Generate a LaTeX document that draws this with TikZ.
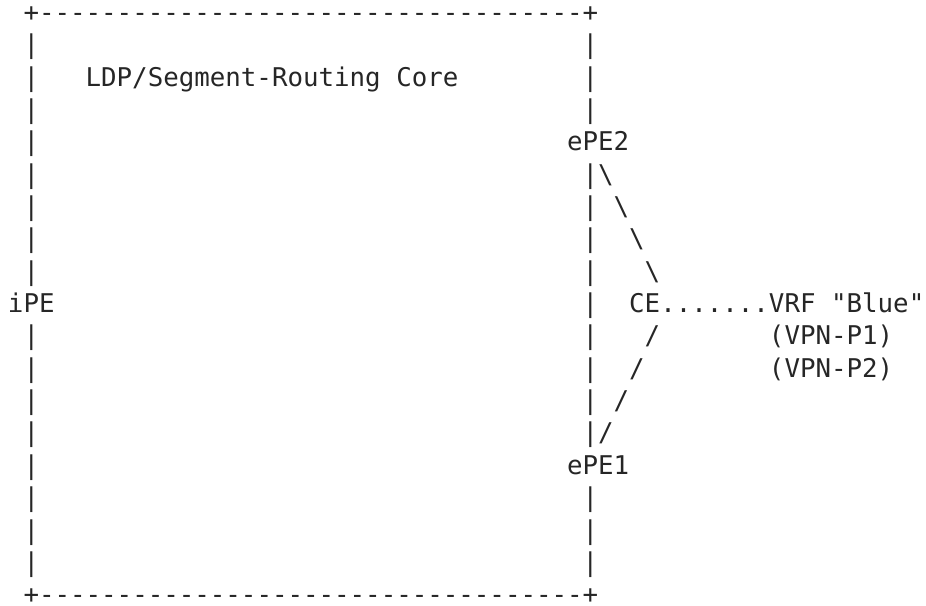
\documentclass[tikz,border=0pt]{standalone}
\usepackage{fontspec}
\setmonofont{DejaVu Sans Mono}
\definecolor{ink}{HTML}{262626}
\begin{document}
\begin{tikzpicture}[x=1pt,y=1pt,
  asc/.style={anchor=base west, inner sep=0pt, outer sep=0pt, text=ink,
              font=\ttfamily\fontsize{25.8}{30}\selectfont}]
\def\W{15.53}
\def\H{32.35}
\def\Y{21.4}
\useasboundingbox (0,0) rectangle (926,-605);
% borders
\node[asc] (top) at ({8+1*\W},{-\Y}) {+-----------------------------------+};
\node[asc] (bot) at ({8+1*\W},{-\Y-18*\H}) {+-----------------------------------+};
\foreach \r in {2,3,4,5,6,7,8,9,11,12,13,14,15,16,17,18}
  \node[asc] (lb\r) at ({8+1*\W},{-\Y-(\r-1)*\H}) {|};
\foreach \r in {2,3,4,7,8,9,10,11,12,13,16,17,18}
  \node[asc] (rb\r) at ({8+37*\W},{-\Y-(\r-1)*\H}) {|};
% texts
\node[asc] (core) at ({8+5*\W},{-\Y-2*\H}) {LDP/Segment-Routing Core};
\node[asc] (epe2) at ({8+36*\W},{-\Y-4*\H}) {ePE2};
\node[asc] (rb6) at ({8+37*\W},{-\Y-5*\H}) {|\textbackslash};
\node[asc] (d7) at ({8+39*\W},{-\Y-6*\H}) {\textbackslash};
\node[asc] (d8) at ({8+40*\W},{-\Y-7*\H}) {\textbackslash};
\node[asc] (d9) at ({8+41*\W},{-\Y-8*\H}) {\textbackslash};
\node[asc] (ipe) at ({8+0*\W},{-\Y-9*\H}) {iPE};
\node[asc] (ce) at ({8+40*\W},{-\Y-9*\H}) {CE.......VRF "Blue"};
\node[asc] (s11) at ({8+41*\W},{-\Y-10*\H}) {/};
\node[asc] (vp1) at ({8+49*\W},{-\Y-10*\H}) {(VPN-P1)};
\node[asc] (s12) at ({8+40*\W},{-\Y-11*\H}) {/};
\node[asc] (vp2) at ({8+49*\W},{-\Y-11*\H}) {(VPN-P2)};
\node[asc] (s13) at ({8+39*\W},{-\Y-12*\H}) {/};
\node[asc] (rb14) at ({8+37*\W},{-\Y-13*\H}) {|/};
\node[asc] (epe1) at ({8+36*\W},{-\Y-14*\H}) {ePE1};
\end{tikzpicture}
\end{document}
